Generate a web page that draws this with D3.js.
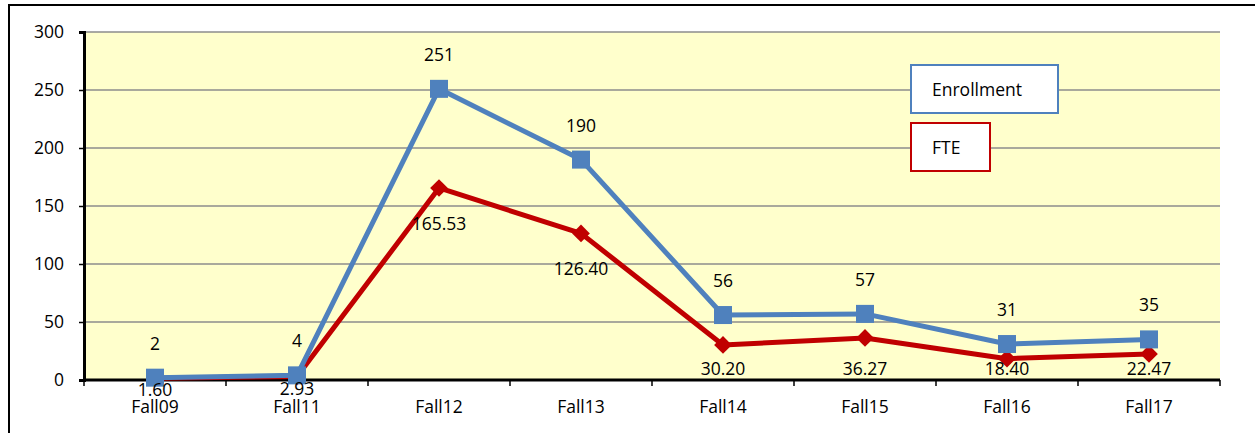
<!DOCTYPE html>
<html>
<head>
<meta charset="utf-8">
<script src="https://cdn.jsdelivr.net/npm/d3@7"></script>
<style>
  body { margin: 0; background: #fff; }
  svg text { font-family: "Open Sans", "Noto Sans", sans-serif; fill: #000; }
</style>
</head>
<body>
<svg id="chart" width="1255" height="433"></svg>
<script>
// chart data
const terms = ["Fall09", "Fall11", "Fall12", "Fall13", "Fall14", "Fall15", "Fall16", "Fall17"];
const enrollment = [2, 4, 251, 190, 56, 57, 31, 35];
const fte = [1.60, 2.93, 165.53, 126.40, 30.20, 36.27, 18.40, 22.47];
const yTicks = [0, 50, 100, 150, 200, 250, 300];

const svg = d3.select("#chart");
const margin = { left: 84, right: 35, top: 32, bottom: 53 };
const W = 1255, H = 433;
const plotW = W - margin.left - margin.right;
const plotH = H - margin.top - margin.bottom;
const fs = "17.5px";

// outer frame
svg.append("path")
  .attr("d", `M9,${H + 5} V5 H${W + 5}`)
  .attr("fill", "none")
  .attr("stroke", "#000")
  .attr("stroke-width", 2);

const g = svg.append("g").attr("transform", `translate(${margin.left},${margin.top})`);

const xscale = d3.scaleBand().domain(terms).range([0, plotW]);
const yscale = d3.scaleLinear().domain([0, 300]).range([plotH, 0]);
const cx = (t) => xscale(t) + xscale.bandwidth() / 2;

// plot background
g.append("rect")
  .attr("width", plotW)
  .attr("height", plotH)
  .attr("fill", "#FFFFCC");

// gridlines
g.selectAll("line.grid")
  .data(yTicks.filter((d) => d > 0))
  .join("line")
  .attr("class", "grid")
  .attr("x1", 0)
  .attr("x2", plotW)
  .attr("y1", yscale)
  .attr("y2", yscale)
  .attr("stroke", "#8c8c8c")
  .attr("stroke-width", 1.5);

// y axis
const yAxis = g.append("g")
  .call(d3.axisLeft(yscale).tickValues(yTicks).tickSize(5).tickPadding(15));
yAxis.select(".domain").attr("stroke", "#000").attr("stroke-width", 3);
yAxis.selectAll(".tick line").attr("stroke", "#000").attr("stroke-width", 1.5);
yAxis.selectAll("text").style("font-size", fs);

// x axis: ticks between categories
const xAxis = g.append("g").attr("transform", `translate(0,${plotH})`);
xAxis.append("line")
  .attr("x1", 0).attr("x2", plotW)
  .attr("stroke", "#000").attr("stroke-width", 3);
const bounds = terms.map((t) => xscale(t)).concat([plotW]);
xAxis.selectAll("line.tick")
  .data(bounds)
  .join("line")
  .attr("class", "tick")
  .attr("x1", (d) => d).attr("x2", (d) => d)
  .attr("y1", 0).attr("y2", 6)
  .attr("stroke", "#000").attr("stroke-width", 1.5);
xAxis.selectAll("text")
  .data(terms)
  .join("text")
  .attr("x", cx)
  .attr("y", 33)
  .attr("text-anchor", "middle")
  .style("font-size", fs)
  .text((d) => d);

const line = d3.line()
  .x((d, i) => cx(terms[i]))
  .y((d) => yscale(d));

// FTE series
g.append("path")
  .datum(fte)
  .attr("d", line)
  .attr("fill", "none")
  .attr("stroke", "#C00000")
  .attr("stroke-width", 5)
  .attr("stroke-linejoin", "round");
g.selectAll("path.fteMark")
  .data(fte)
  .join("path")
  .attr("class", "fteMark")
  .attr("d", d3.symbol(d3.symbolDiamond2, 200))
  .attr("transform", (d, i) => `translate(${cx(terms[i])},${yscale(d)})`)
  .attr("fill", "#C00000");

// Enrollment series
g.append("path")
  .datum(enrollment)
  .attr("d", line)
  .attr("fill", "none")
  .attr("stroke", "#4F81BD")
  .attr("stroke-width", 5)
  .attr("stroke-linejoin", "round");
g.selectAll("rect.enrMark")
  .data(enrollment)
  .join("rect")
  .attr("class", "enrMark")
  .attr("x", (d, i) => cx(terms[i]) - 9)
  .attr("y", (d) => yscale(d) - 9)
  .attr("width", 18)
  .attr("height", 18)
  .attr("fill", "#4F81BD");

// data labels
g.selectAll("text.enrLabel")
  .data(enrollment)
  .join("text")
  .attr("class", "enrLabel")
  .attr("x", (d, i) => cx(terms[i]))
  .attr("y", (d) => yscale(d) - 28)
  .attr("text-anchor", "middle")
  .style("font-size", fs)
  .text((d) => d);

g.selectAll("text.fteLabel")
  .data(fte)
  .join("text")
  .attr("class", "fteLabel")
  .attr("x", (d, i) => cx(terms[i]))
  .attr("y", (d) => d < 10 ? yscale(d) + 18 : Math.min(yscale(d) + 42, plotH - 5))
  .attr("text-anchor", "middle")
  .style("font-size", fs)
  .text((d) => d.toFixed(2));

// legend
const legendItems = [
  { name: "Enrollment", color: "#4F81BD", w: 147 },
  { name: "FTE", color: "#C00000", w: 79 }
];
const legend = svg.append("g").attr("transform", "translate(911,65)");
legend.selectAll("g")
  .data(legendItems)
  .join("g")
  .attr("transform", (d, i) => `translate(0,${i * 58})`)
  .each(function (d) {
    const item = d3.select(this);
    item.append("rect")
      .attr("width", d.w)
      .attr("height", 48)
      .attr("fill", "#fff")
      .attr("stroke", d.color)
      .attr("stroke-width", 2);
    item.append("text")
      .attr("x", 21)
      .attr("y", 31)
      .style("font-size", fs)
      .text(d.name);
  });
</script>
</body>
</html>
